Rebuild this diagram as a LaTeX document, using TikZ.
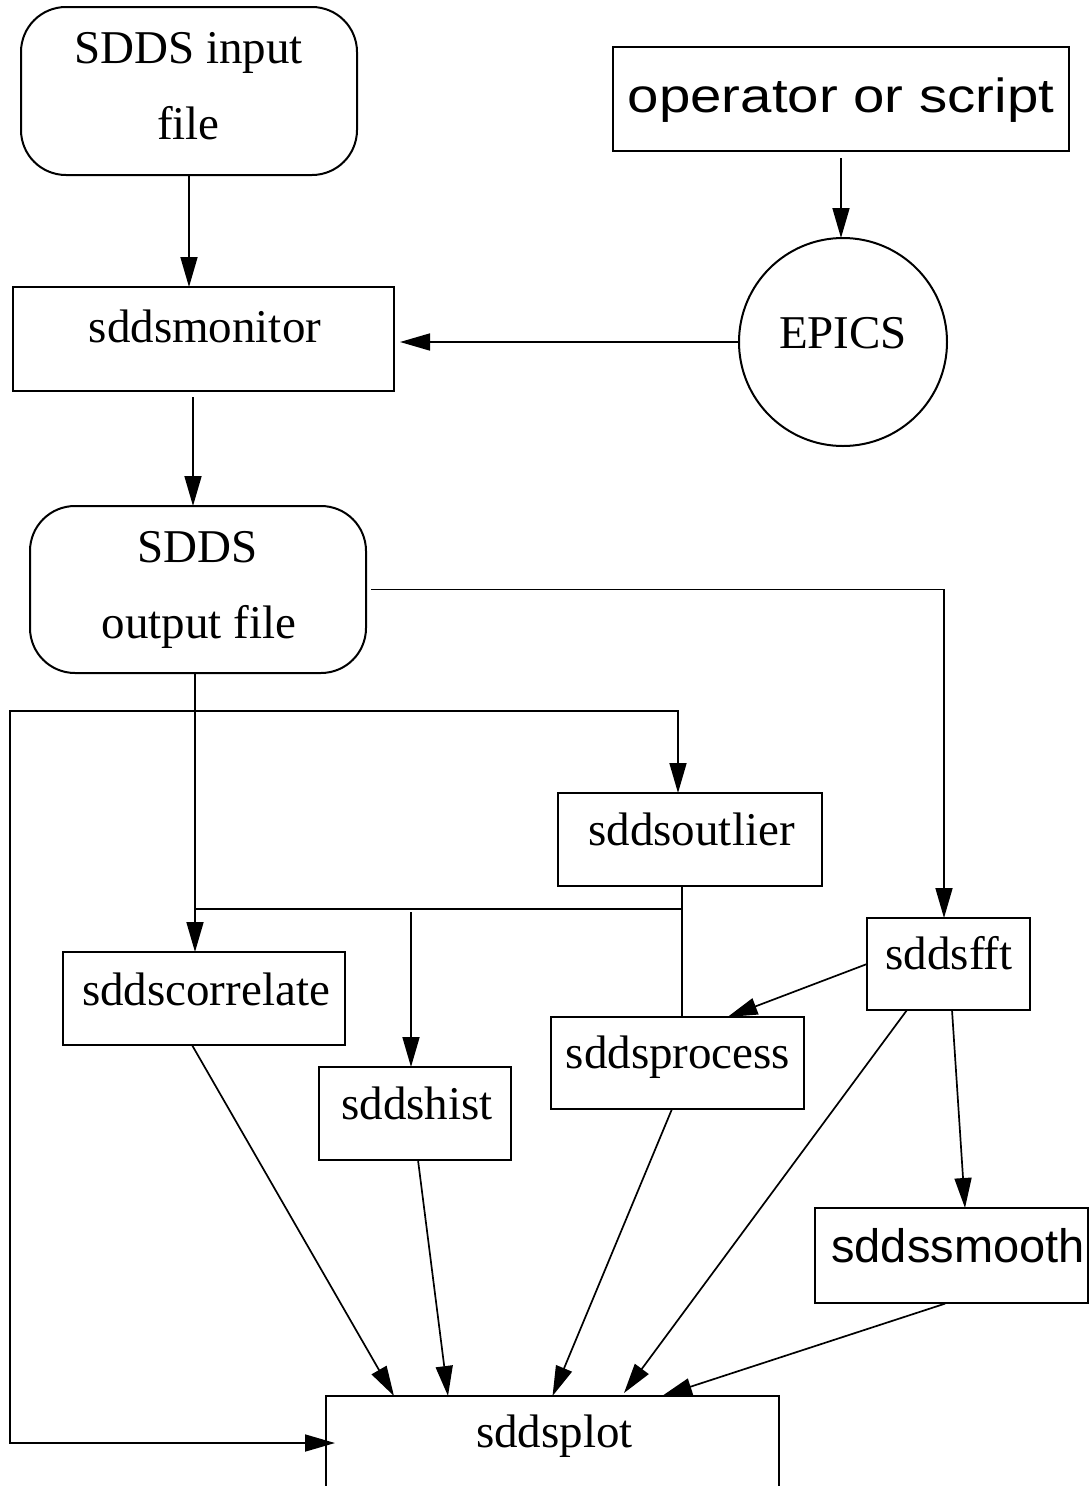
\documentclass[tikz,border=0pt]{standalone}
\usepackage{fontspec}
\usepackage{graphicx}
\setmainfont{Liberation Serif}
\setsansfont{Liberation Sans}
\usetikzlibrary{arrows.meta}
\begin{document}
\begin{tikzpicture}[x=1pt,y=-1pt,
  bx/.style={draw, rectangle, line width=2pt, inner sep=0pt, outer sep=0pt},
  rbx/.style={bx, rounded corners=45pt},
  txt/.style={inner sep=0pt, anchor=base, font=\fontsize{47}{56}\selectfont},
  stxt/.style={txt, font=\fontsize{47}{56}\selectfont\sffamily},
  conn/.style={line width=1.7pt},
  arr/.style={conn, -{Triangle[length=30pt,width=17pt]}},
  arrb/.style={conn, {Triangle[length=30pt,width=17pt]}-{Triangle[length=30pt,width=17pt]}}
]
\useasboundingbox (0,0) rectangle (1089,1486);

% boxes
\node[rbx, minimum width=336pt, minimum height=168pt] (in) at (189,91) {};
\node[bx, minimum width=456pt, minimum height=104pt] (op) at (841,99) {};
\node[draw, circle, line width=2pt, inner sep=0pt, outer sep=0pt, minimum size=208pt] (epics) at (843,342) {};
\node[bx, minimum width=381pt, minimum height=104pt] (mon) at (203.5,339) {};
\node[rbx, minimum width=336pt, minimum height=167pt] (out) at (198,589.5) {};
\node[bx, minimum width=264pt, minimum height=93pt] (outl) at (690,839.5) {};
\node[bx, minimum width=282pt, minimum height=93pt] (corr) at (204,998.5) {};
\node[bx, minimum width=192pt, minimum height=93pt] (hist) at (415,1113.5) {};
\node[bx, minimum width=253pt, minimum height=92pt] (proc) at (677.5,1063) {};
\node[bx, minimum width=163pt, minimum height=92pt] (fft) at (948.5,964) {};
\node[bx, minimum width=273pt, minimum height=95pt] (smooth) at (951.5,1255.5) {};
\node[bx, minimum width=453pt, minimum height=94pt] (plot) at (552.5,1443) {};

% texts
\node[txt] (in-t1) at (188.5,63) {SDDS input};
\node[txt] (in-t2) at (188.5,139) {file};
\node[stxt] (op-t) at (841,112) {\scalebox{1.2}[1.02]{operator or script}};
\node[txt] (epics-t) at (843,348) {EPICS};
\node[txt] (mon-t) at (205,342) {sddsmonitor};
\node[txt] (out-t1) at (197.5,562) {SDDS};
\node[txt] (out-t2) at (199,638) {output file};
\node[txt] (outl-t) at (691.5,845) {sddsoutlier};
\node[txt] (corr-t) at (206,1005) {sddscorrelate};
\node[txt] (hist-t) at (417,1119) {sddshist};
\node[txt] (proc-t) at (678,1068) {sddsprocess};
\node[txt] (fft-t) at (949,969) {sddsfft};
\node[stxt] (smooth-t) at (958,1262) {sddssmooth};
\node[txt] (plot-t) at (554.5,1447) {sddsplot};

% junctions
\coordinate (jl) at (10,711);
\coordinate (jm) at (682,909);
\coordinate (jh) at (411,909);

% connectors
\draw[arr] (in.south) -- (in.south |- mon.north);
\draw[arr, shorten <=7pt] (op.south) -- (op.south |- epics.north);
\draw[arr, shorten >=6pt] (epics.west) -- (epics.west -| mon.east);
\draw[arr, shorten <=6pt] ([xshift=-10.5pt]mon.south) -- ([xshift=-10.5pt]mon.south |- out.north);
\draw[arr, shorten <=5pt] (out.east) -| ([xshift=-4.5pt]fft.north);
\draw[arr] ([xshift=-3pt]out.south) -- ([xshift=-3pt]out.south |- corr.north);
\draw[arrb, shorten <=-9pt] (plot.west) -| (jl) -| ([xshift=-12pt]outl.north);
\draw[conn] ([xshift=-8pt]outl.south) -- (jm) -- (jm |- proc.north);
\draw[conn] (jm) -- ([xshift=-3pt]out.south |- jm);
\draw[arr, shorten <=3pt] (jh) -- (jh |- hist.north);
\draw[arr] (fft.west) -- ([xshift=50pt]proc.north);
\draw[arr] ([xshift=-41.5pt]fft.south) -- ([xshift=71.5pt,yshift=3pt]plot.north);
\draw[arr] ([xshift=3.5pt]fft.south) -- ([xshift=13.5pt]smooth.north);
\draw[arr, shorten <=2pt] ([xshift=-4.5pt]smooth.south) -- ([xshift=109.5pt]plot.north);
\draw[arr] ([xshift=-12pt]corr.south) -- ([xshift=-158.5pt]plot.north);
\draw[arr] ([xshift=3pt]hist.south) -- ([xshift=-104.5pt]plot.north);
\draw[arr] ([xshift=-5.5pt]proc.south) -- (plot.north);
\end{tikzpicture}
\end{document}
